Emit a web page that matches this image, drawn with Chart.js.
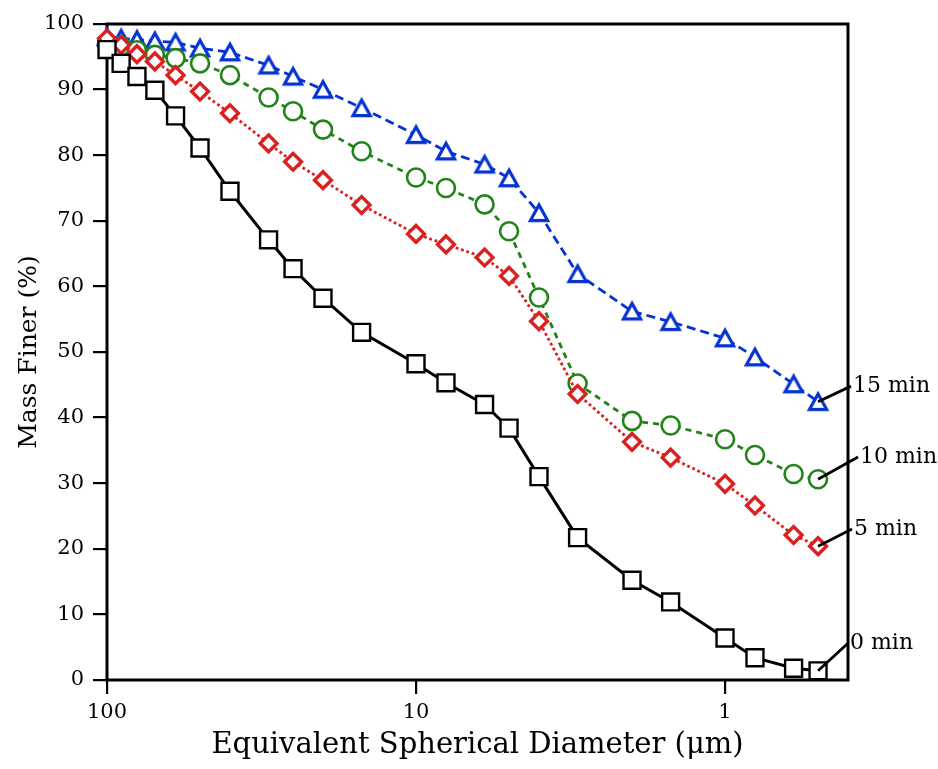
<!DOCTYPE html>
<html>
<head>
<meta charset="utf-8">
<script src="https://cdn.jsdelivr.net/npm/chart.js@4"></script>
<style>
  html, body { margin: 0; padding: 0; background: #fff; }
  #wrap { width: 938px; height: 769px; }
</style>
</head>
<body>
<div id="wrap"><canvas id="chart" width="938" height="769"></canvas></div>
<script>
// Particle size distribution, mass finer vs. equivalent spherical diameter
const diameters = [100, 90, 80, 70, 60, 50, 40, 30, 25, 20, 15, 10, 8, 6, 5, 4, 3, 2, 1.5, 1, 0.8, 0.6, 0.5];
const min0  = [96.1, 94.0, 92.0, 89.9, 86.0, 81.1, 74.5, 67.1, 62.7, 58.2, 53.0, 48.2, 45.3, 42.0, 38.4, 31.0, 21.7, 15.2, 11.9, 6.4, 3.4, 1.8, 1.4];
const min5  = [97.8, 96.8, 95.4, 94.3, 92.2, 89.7, 86.4, 81.8, 79.0, 76.2, 72.4, 68.0, 66.4, 64.4, 61.6, 54.7, 43.6, 36.3, 33.9, 29.9, 26.6, 22.1, 20.4];
const min10 = [97.0, 96.6, 96.0, 95.3, 94.8, 94.0, 92.2, 88.8, 86.7, 83.9, 80.6, 76.6, 75.0, 72.5, 68.4, 58.3, 45.2, 39.5, 38.8, 36.7, 34.3, 31.4, 30.6];
const min15 = [98.0, 97.8, 97.6, 97.4, 97.2, 96.3, 95.7, 93.7, 92.0, 90.0, 87.2, 83.1, 80.6, 78.6, 76.5, 71.2, 61.9, 56.2, 54.6, 52.1, 49.2, 45.1, 42.4];
const seriesNames = ['0 min', '5 min', '10 min', '15 min'];
const xTicks = [100, 10, 1];

const FONT = "'DejaVu Serif', serif";
const BLUE = '#0533d2', RED = '#dc1f1f', GREEN = '#228418';

// matplotlib style triangle, centred on its bounding box
function triangleMarker(color) {
  const c = document.createElement('canvas');
  c.width = 30; c.height = 30;
  const g = c.getContext('2d');
  g.beginPath();
  g.moveTo(15, 7);
  g.lineTo(23.6, 22.6);
  g.lineTo(6.4, 22.6);
  g.closePath();
  g.fillStyle = '#fff';
  g.fill();
  g.lineWidth = 3.2;
  g.strokeStyle = color;
  g.stroke();
  return c;
}

const pts = arr => arr.map((v, i) => ({ x: diameters[i], y: v }));

const frame = {
  id: 'frame',
  beforeDatasetsDraw(chart) {
    const { ctx, chartArea: a } = chart;
    ctx.save();
    ctx.strokeStyle = '#000';
    ctx.lineWidth = 3;
    ctx.strokeRect(a.left, a.top, a.right - a.left, a.bottom - a.top);
    ctx.restore();
  }
};

// leader lines from the last point of each curve to its label
const leaders = {
  id: 'leaders',
  afterDatasetsDraw(chart) {
    const { ctx, chartArea: a, scales: { x, y } } = chart;
    const endDx = [0, 4, 10, 3];
    const endY = [5.6, 23.0, 34.0, 44.8];
    ctx.save();
    ctx.strokeStyle = '#000';
    ctx.lineWidth = 2.8;
    ctx.fillStyle = '#000';
    ctx.font = '22px ' + FONT;
    ctx.textBaseline = 'middle';
    chart.data.datasets.forEach((ds, i) => {
      const last = ds.data[ds.data.length - 1];
      const x0 = x.getPixelForValue(last.x), y0 = y.getPixelForValue(last.y);
      const x1 = a.right + endDx[i], y1 = y.getPixelForValue(endY[i]);
      ctx.beginPath();
      ctx.moveTo(x0, y0);
      ctx.lineTo(x1, y1);
      ctx.stroke();
      ctx.fillText(seriesNames[i], x1 + 2, y1);
    });
    ctx.restore();
  }
};

new Chart(document.getElementById('chart'), {
  type: 'line',
  data: {
    datasets: [
      {
        label: seriesNames[0], data: pts(min0),
        borderColor: '#000', borderWidth: 3,
        pointStyle: 'rect', pointRadius: 12, pointBorderWidth: 2.4,
        pointBackgroundColor: '#fff', pointBorderColor: '#000'
      },
      {
        label: seriesNames[1], data: pts(min5),
        borderColor: RED, borderWidth: 2.8, borderDash: [2.8, 2.8],
        pointStyle: 'rectRot', pointRadius: 8.4, pointBorderWidth: 3.4,
        pointBackgroundColor: '#fff', pointBorderColor: RED
      },
      {
        label: seriesNames[2], data: pts(min10),
        borderColor: GREEN, borderWidth: 2.8, borderDash: [6, 5],
        pointStyle: 'circle', pointRadius: 9, pointBorderWidth: 2.6,
        pointBackgroundColor: '#fff', pointBorderColor: GREEN
      },
      {
        label: seriesNames[3], data: pts(min15),
        borderColor: BLUE, borderWidth: 2.8, borderDash: [9, 5],
        pointStyle: triangleMarker(BLUE), pointRadius: 10,
        pointBackgroundColor: '#fff', pointBorderColor: BLUE
      }
    ]
  },
  options: {
    responsive: false,
    animation: false,
    clip: false,
    layout: { padding: { top: 24, right: 90, left: 0, bottom: 0 } },
    elements: { line: { tension: 0, fill: false } },
    plugins: { legend: { display: false }, tooltip: { enabled: false } },
    scales: {
      x: {
        type: 'logarithmic',
        reverse: true,
        min: 0.4,
        max: 100,
        afterBuildTicks: s => { s.ticks = xTicks.map(v => ({ value: v })); },
        afterFit: s => { s.height = 89; },
        border: { display: false },
        grid: { drawOnChartArea: false, drawTicks: true, tickLength: 14, lineWidth: 2.2, color: '#000' },
        ticks: {
          color: '#000', padding: 6, maxRotation: 0, autoSkip: false,
          font: { family: FONT, size: 21 },
          callback: v => String(v)
        },
        title: {
          display: true, text: 'Equivalent Spherical Diameter (μm)', color: '#000',
          font: { family: FONT, size: 29 }, padding: { top: 0, bottom: 6 }
        }
      },
      y: {
        min: 0,
        max: 100,
        afterFit: s => { s.width = 107; },
        border: { display: false },
        grid: { drawOnChartArea: false, drawTicks: true, tickLength: 14, lineWidth: 2.2, color: '#000' },
        ticks: {
          stepSize: 10, color: '#000', padding: 9,
          font: { family: FONT, size: 21 }
        },
        title: {
          display: true, text: 'Mass Finer (%)', color: '#000',
          font: { family: FONT, size: 25 }, padding: { top: 14, bottom: 0 }
        }
      }
    }
  },
  plugins: [frame, leaders]
});
</script>
</body>
</html>
